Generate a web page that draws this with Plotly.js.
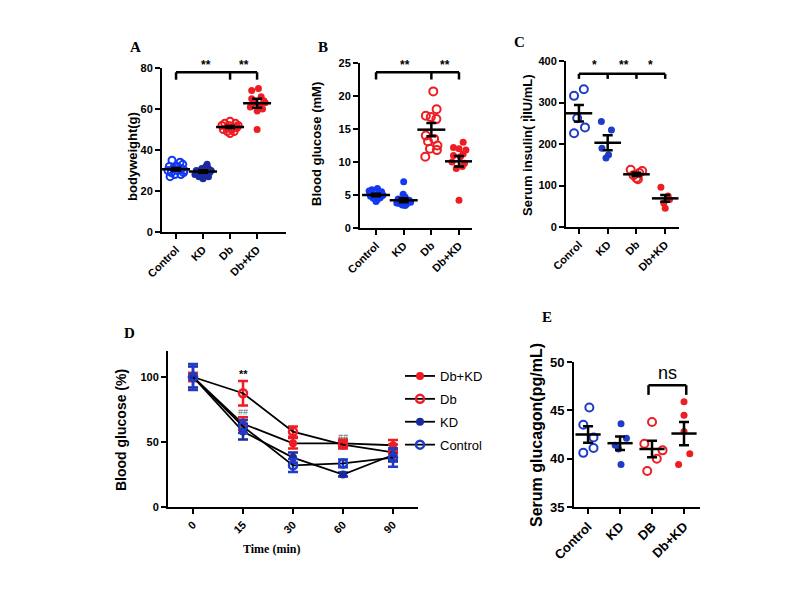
<!DOCTYPE html>
<html>
<head>
<meta charset="utf-8">
<script src="https://cdn.plot.ly/plotly-3.0.1.min.js"></script>
<style>
  html, body { margin: 0; padding: 0; background: #fff; }
  #chart { width: 800px; height: 600px; }
</style>
</head>
<body>
<div id="chart"></div>
<script>
// ---- data ----
const groupsA = ['Control', 'KD', 'Db', 'Db+KD'];
const groupsC = ['Conrol', 'KD', 'Db', 'Db+KD'];
const groupsE = ['Control', 'KD', 'DB', 'Db+KD'];
const timesD = ['0', '15', '30', '60', '90'];

// A: bodyweight (g)
const ctrlA = [35, 34, 33, 32, 31, 31, 30, 30, 29, 29, 28, 28, 27, 32, 30];
const ctrlAdx = [-0.15, 0.15, 0.25, -0.25, -0.1, 0.2, -0.3, 0.05, 0.28, -0.18, -0.05, 0.18, -0.22, 0.05, 0.3];
const kdA = [33, 31, 30, 30, 29, 29, 28, 28, 27, 27, 26, 31, 30, 32];
const kdAdx = [0.15, 0.2, -0.25, 0.1, -0.1, 0.25, -0.3, 0.05, -0.15, 0.2, 0, -0.05, 0.3, 0.1];
const dbA = [54, 53, 53, 52, 52, 51, 51, 51, 50, 50, 49, 49, 48, 52];
const dbAdx = [0, -0.2, 0.2, -0.3, 0.3, -0.1, 0.1, 0.25, -0.25, 0.05, -0.1, 0.15, 0, -0.05];
const dbkdA = [70, 69, 66, 65, 64, 63, 62, 61, 60, 59, 50, 63];
const dbkdAdx = [0.05, -0.2, 0.15, -0.2, 0.25, -0.1, 0.1, -0.25, 0.2, 0, 0, 0.3];
const meanA = [30.6, 29.5, 51.2, 62.8];
const semA = [0.6, 0.6, 0.5, 2.2];

// B: blood glucose (mM)
const ctrlB = [6.0, 5.8, 5.5, 5.3, 5.2, 5.0, 5.0, 4.8, 4.6, 4.5, 4.3, 4.0, 5.6, 4.9];
const ctrlBdx = [0.05, -0.15, 0.2, -0.22, 0.1, -0.05, 0.25, -0.2, 0.15, -0.1, 0.05, 0, -0.25, 0.22];
const kdB = [7.0, 5.1, 4.7, 4.4, 4.2, 4.0, 3.9, 3.8, 3.6, 3.5, 3.4, 4.1, 3.7];
const kdBdx = [0, -0.02, 0.05, -0.2, 0.2, -0.1, 0.25, -0.25, 0.1, -0.05, 0.05, 0.15, -0.15];
const dbB = [20.7, 18.0, 17.0, 16.8, 16.5, 14.0, 13.5, 13.1, 12.5, 12.0, 11.8, 10.8];
const dbBdx = [0.07, 0.19, -0.2, -0.02, 0.18, -0.2, 0.1, -0.12, 0.22, -0.05, 0.2, -0.22];
const dbkdB = [13.0, 12.2, 12.0, 11.8, 11.2, 11.0, 10.8, 10.0, 9.8, 9.3, 9.0, 4.2];
const dbkdBdx = [0.15, -0.2, 0, 0.25, 0.15, -0.2, 0.05, -0.25, 0.2, 0.12, -0.1, 0];
const meanB = [5.0, 4.2, 14.9, 10.1];
const semB = [0.2, 0.3, 1.0, 0.8];

// C: serum insulin
const ctrlC = [332, 316, 262, 240, 226];
const ctrlCdx = [0.17, -0.17, -0.06, 0.21, -0.17];
const kdC = [254, 234, 190, 174, 166];
const kdCdx = [-0.22, 0.13, -0.2, 0.03, -0.06];
const dbC = [138, 135, 130, 125, 118, 115];
const dbCdx = [-0.2, 0.2, 0.1, -0.1, 0, 0.05];
const dbkdC = [96, 75, 66, 58, 45];
const dbkdCdx = [-0.15, 0.1, 0.15, -0.05, 0];
const meanC = [274, 203, 127, 69];
const semC = [20, 18, 4, 8];

// D: blood glucose (%) over time
const dbkdD = [100, 64, 49, 49, 47.5];
const dbkdDerr = [3, 5, 4, 3, 4];
const dbD = [100, 87.5, 58, 48, 42];
const dbDerr = [3, 9.5, 4, 3, 6];
const kdD = [100, 58, 38, 25, 40];
const kdDerr = [8, 6, 4, 1.5, 5];
const ctrlD = [100, 62, 32, 33.5, 38];
const ctrlDerr = [10, 5, 5, 3, 7];

// E: serum glucagon
const ctrlE = [45.3, 43.5, 42.2, 40.6, 41.1];
const ctrlEdx = [0.04, -0.15, 0.17, -0.15, 0.17];
const kdE = [43.6, 42.1, 41.4, 41.0, 39.4];
const kdEdx = [0.03, 0.2, -0.15, -0.05, 0.03];
const dbE = [43.8, 41.55, 40.86, 40.0, 38.72];
const dbEdx = [0, -0.24, 0.33, 0.15, -0.15];
const dbkdE = [45.9, 44.5, 42.8, 40.5, 39.4];
const dbkdEdx = [0, 0, 0, 0.18, -0.17];
const meanE = [42.5, 41.6, 41.0, 42.6];
const semE = [0.85, 0.7, 0.85, 1.2];

// ---- styling ----
const FONT = 'Liberation Sans, Arial, sans-serif';
const SERIF = 'Liberation Serif, Times New Roman, serif';
const RED = '#ee1d23';
const BLUE = '#1e3cc8';
const NAVY = '#1a2a9c';
const BRIGHT = '#1238f2';

const W = 800, H = 600;
const px = v => v / W;
const py = v => 1 - v / H;

function dots(xa, ya, idx, vals, dx, color, open, size) {
    return {
        type: 'scatter', mode: 'markers', xaxis: xa, yaxis: ya,
        x: vals.map((v, i) => idx + dx[i]), y: vals,
        marker: {
            symbol: open ? 'circle-open' : 'circle',
            size: size, color: color,
            line: { color: color, width: open ? 2 : 0 }
        },
        showlegend: false, hoverinfo: 'skip'
    };
}

function meanBars(xa, ya, means, sems, lineW) {
    return {
        type: 'scatter', mode: 'markers', xaxis: xa, yaxis: ya,
        x: means.map((m, i) => i), y: means,
        marker: { symbol: 'line-ew', size: lineW, color: '#000', line: { color: '#000', width: 2.5 } },
        error_y: { type: 'data', array: sems, color: '#000', thickness: 2.5, width: 5 },
        showlegend: false, hoverinfo: 'skip'
    };
}

const traces = [
    dots('x', 'y', 0, ctrlA, ctrlAdx, BRIGHT, true, 7),
    dots('x', 'y', 1, kdA, kdAdx, NAVY, false, 7),
    dots('x', 'y', 2, dbA, dbAdx, RED, true, 7),
    dots('x', 'y', 3, dbkdA, dbkdAdx, RED, false, 7),
    meanBars('x', 'y', meanA, semA, 20),

    dots('x2', 'y2', 0, ctrlB, ctrlBdx, BRIGHT, false, 7),
    dots('x2', 'y2', 1, kdB, kdBdx, BRIGHT, false, 7),
    dots('x2', 'y2', 2, dbB, dbBdx, RED, true, 8),
    dots('x2', 'y2', 3, dbkdB, dbkdBdx, RED, false, 7),
    meanBars('x2', 'y2', meanB, semB, 20),

    dots('x3', 'y3', 0, ctrlC, ctrlCdx, BLUE, true, 8),
    dots('x3', 'y3', 1, kdC, kdCdx, BLUE, false, 7),
    dots('x3', 'y3', 2, dbC, dbCdx, RED, true, 8),
    dots('x3', 'y3', 3, dbkdC, dbkdCdx, RED, false, 7),
    meanBars('x3', 'y3', meanC, semC, 19),

    dots('x5', 'y5', 0, ctrlE, ctrlEdx, BLUE, true, 8),
    dots('x5', 'y5', 1, kdE, kdEdx, BLUE, false, 7),
    dots('x5', 'y5', 2, dbE, dbEdx, RED, true, 8),
    dots('x5', 'y5', 3, dbkdE, dbkdEdx, RED, false, 7),
    meanBars('x5', 'y5', meanE, semE, 18)
];

// D: time course, one trace per group (legend order as in figure)
const seriesD = [
    { name: 'Db+KD', y: dbkdD, err: dbkdDerr, color: RED, open: false },
    { name: 'Db', y: dbD, err: dbDerr, color: RED, open: true },
    { name: 'KD', y: kdD, err: kdDerr, color: NAVY, open: false },
    { name: 'Control', y: ctrlD, err: ctrlDerr, color: BLUE, open: true }
];
seriesD.forEach(s => {
    traces.push({
        type: 'scatter', mode: 'lines+markers', xaxis: 'x4', yaxis: 'y4',
        name: s.name, legendgroup: s.name,
        x: timesD.map((t, i) => i), y: s.y,
        line: { color: '#000', width: 1.8 },
        marker: {
            symbol: s.open ? 'circle-open' : 'circle', size: 8, color: s.color,
            line: { color: s.color, width: s.open ? 2.5 : 0 }
        },
        error_y: { type: 'data', array: s.err, color: s.color, thickness: 2.5, width: 5 },
        hoverinfo: 'skip'
    });
});

// ---- axes ----
const tickFont = { family: FONT, size: 11, color: '#000', weight: 'bold' };
function axis(extra) {
    return Object.assign({
        showline: true, linecolor: '#000', linewidth: 2,
        ticks: 'outside', ticklen: 5, tickwidth: 2, tickcolor: '#000',
        showgrid: false, zeroline: false, fixedrange: true,
        tickfont: tickFont
    }, extra);
}
function catAxis(domain, range, labels, anchor, font) {
    return axis({
        domain: domain, range: range, anchor: anchor,
        tickmode: 'array', tickvals: labels.map((l, i) => i), ticktext: labels,
        tickangle: -45, tickfont: font || tickFont
    });
}

// ---- brackets and significance marks ----
const shapes = [];
function bracket(xr, yr, x0, x1, y, drop, ticksAt) {
    const ln = { color: '#000', width: 2.5 };
    shapes.push({ type: 'line', xref: xr, yref: yr, x0: x0, x1: x1, y0: y, y1: y, line: ln });
    ticksAt.forEach(t => shapes.push({ type: 'line', xref: xr, yref: yr, x0: t, x1: t, y0: y, y1: y - drop, line: ln }));
}
bracket('x', 'y', 0, 3, 77.9, 3.6, [0, 2, 3]);
bracket('x2', 'y2', 0, 3, 23.6, 1.1, [0, 2, 3]);
bracket('x3', 'y3', 0, 3, 369, 12, [0, 1, 2, 3]);
bracket('x5', 'y5', 1.89, 3.07, 47.6, 1.0, [1.89, 3.07]);

const annotations = [];
function mark(xr, yr, x, y, text, size, shift, color, bold) {
    annotations.push({
        xref: xr, yref: yr, x: x, y: y, yshift: shift, text: text, showarrow: false,
        font: { family: FONT, size: size, color: color || '#000', weight: bold === false ? 'normal' : 'bold' }
    });
}
mark('x', 'y', 1.1, 77.9, '**', 12, 7);
mark('x', 'y', 2.52, 77.9, '**', 12, 7);
mark('x2', 'y2', 1.05, 23.6, '**', 12, 7);
mark('x2', 'y2', 2.5, 23.6, '**', 12, 7);
mark('x3', 'y3', 0.53, 369, '*', 12, 9);
mark('x3', 'y3', 1.55, 369, '**', 12, 9);
mark('x3', 'y3', 2.5, 369, '*', 12, 9);
mark('x5', 'y5', 2.48, 47.6, 'ns', 18, 12, '#000', false);
mark('x4', 'y4', 1, 100, '**', 11, 3);
mark('x4', 'y4', 1, 73, '##', 9, 0, '#666', false);
mark('x4', 'y4', 3, 54, '##', 9, 0, '#666', false);

function paperText(x, y, text, font, angle) {
    annotations.push({
        xref: 'paper', yref: 'paper', x: px(x), y: py(y), text: text, showarrow: false,
        xanchor: 'center', yanchor: 'middle', textangle: angle || 0, font: font
    });
}
const panelFont = { family: SERIF, size: 15, color: '#000', weight: 'bold' };
paperText(135, 47, 'A', panelFont);
paperText(323, 47, 'B', panelFont);
paperText(519, 42, 'C', panelFont);
paperText(129, 333, 'D', panelFont);
paperText(547, 317, 'E', panelFont);

const titleFont = s => ({ family: FONT, size: s, color: '#000', weight: 'bold' });
paperText(132, 157, 'bodyweight(g)', titleFont(13), -90);
paperText(316, 144, 'Blood glucose (mM)', titleFont(13), -90);
paperText(527, 145, 'Serum insulin( \u00a6\u00ccIU/mL)', titleFont(13), -90);
paperText(121, 430, 'Blood glucose (%)', titleFont(14), -90);
paperText(536, 435, 'Serum glucagon(pg/mL)', titleFont(16), -90);
paperText(271, 549, 'Time (min)', { family: SERIF, size: 12, color: '#000', weight: 'bold' });

const bigTick = { family: FONT, size: 13, color: '#000', weight: 'bold' };

const layout = {
    width: W, height: H,
    margin: { t: 0, r: 0, b: 0, l: 0 },
    paper_bgcolor: '#fff', plot_bgcolor: 'rgba(0,0,0,0)',
    showlegend: true,
    legend: {
        x: 0.5, xanchor: 'left', y: py(361), yanchor: 'top',
        bgcolor: 'rgba(0,0,0,0)', tracegroupgap: 3,
        font: { family: FONT, size: 13, color: '#000' }
    },
    xaxis: catAxis([px(162), px(286)], [-0.52, 4.07], groupsA, 'y'),
    yaxis: axis({ domain: [py(232), py(68)], range: [0, 80], tickvals: [0, 20, 40, 60, 80], anchor: 'x' }),
    xaxis2: catAxis([px(360), px(472)], [-0.58, 3.47], groupsA, 'y2'),
    yaxis2: axis({ domain: [py(228), py(63)], range: [0, 25], tickvals: [0, 5, 10, 15, 20, 25], anchor: 'x2' }),
    xaxis3: catAxis([px(566), px(679)], [-0.45, 3.48], groupsC, 'y3'),
    yaxis3: axis({ domain: [py(227), py(61)], range: [0, 400], tickvals: [0, 100, 200, 300, 400], anchor: 'x3' }),
    xaxis4: catAxis([px(168), px(418)], [-0.5, 4.5], timesD, 'y4'),
    yaxis4: axis({ domain: [py(507), py(351)], range: [0, 120], tickvals: [0, 50, 100], anchor: 'x4' }),
    xaxis5: catAxis([px(574), px(700)], [-0.44, 3.5], groupsE, 'y5', bigTick),
    yaxis5: axis({ domain: [py(507), py(362)], range: [35, 50], tickvals: [35, 40, 45, 50], anchor: 'x5', tickfont: bigTick }),
    shapes: shapes,
    annotations: annotations
};

Plotly.newPlot('chart', traces, layout, { displayModeBar: false, staticPlot: true });
</script>
</body>
</html>
